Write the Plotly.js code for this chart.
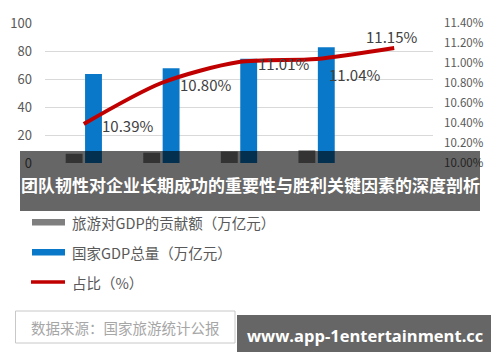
<!DOCTYPE html>
<html>
<head>
<meta charset="utf-8">
<script src="https://cdn.plot.ly/plotly-3.0.1.min.js"></script>
<style>
html,body{margin:0;padding:0;background:#fff;}
#chart{width:500px;height:362px;}
</style>
</head>
<body>
<div id="chart"></div>
<script>
// ---- data ----
var categories = ['2014', '2015', '2016', '2017', '2018'];
var tourismGDP = [6.61, 7.34, 8.19, 9.13, null];      // 旅游对GDP的贡献额（万亿元）
var nationalGDP = [63.6, 67.7, 74.4, 82.7, null];     // 国家GDP总量（万亿元）
var sharePct = [10.39, 10.80, 11.01, 11.04, 11.15];   // 占比（%）
var shareLabels = ['10.39%', '10.80%', '11.01%', '11.04%', '11.15%'];
var leftTicks = [0, 20, 40, 60, 80, 100];
var rightTicks = [10.0, 10.2, 10.4, 10.6, 10.8, 11.0, 11.2, 11.4];
var rightTickLabels = ['10.00%', '10.20%', '10.40%', '10.60%', '10.80%', '11.00%', '11.20%', '11.40%'];
var seriesNames = ['旅游对GDP的贡献额（万亿元）', '国家GDP总量（万亿元）', '占比（%）'];
var bannerText = '团队韧性对企业长期成功的重要性与胜利关键因素的深度剖析';
var sourceText = '数据来源：国家旅游统计公报';
var siteText = 'www.app-1entertainment.cc';

// ---- layout helpers (pixel -> paper) ----
var M = {l: 45, r: 67, t: 23, b: 199};
var W = 500, H = 362;
var PW = W - M.l - M.r, PH = H - M.t - M.b;
function px(x) { return (x - M.l) / PW; }
function py(y) { return (H - M.b - y) / PH; }

var labelOffsets = [
  {xa: 'left', xs: 16, ys: -1},
  {xa: 'left', xs: 17, ys: -1},
  {xa: 'left', xs: 17, ys: -1},
  {xa: 'left', xs: 10, ys: -15},
  {xa: 'center', xs: -3, ys: 12}
];

var CJK = '"Noto Sans CJK SC", "Noto Sans", sans-serif';
var colGray = '#7f7f7f', colBlue = '#0a78c8', colRed = '#c00000';

var traces = [
  {type: 'bar', x: categories, y: tourismGDP, name: seriesNames[0],
   marker: {color: colGray}, hoverinfo: 'skip'},
  {type: 'bar', x: categories, y: nationalGDP, name: seriesNames[1],
   marker: {color: colBlue}, hoverinfo: 'skip'},
  {type: 'scatter', mode: 'lines', x: categories, y: sharePct, yaxis: 'y2',
   name: seriesNames[2], line: {color: colRed, width: 4, shape: 'spline', smoothing: 0.8},
   hoverinfo: 'skip'}
];

var annotations = [];
for (var i = 0; i < sharePct.length; i++) {
  var o = labelOffsets[i];
  // x given as the category index on the category axis
  annotations.push({x: categories.indexOf(categories[i]), y: sharePct[i], xref: 'x', yref: 'y2',
    text: shareLabels[i], showarrow: false, xanchor: o.xa, yanchor: 'middle',
    xshift: o.xs, yshift: o.ys, font: {family: CJK, size: 15, color: '#404040'}});
}

var shapes = [];
// legend
var legY = [222, 252, 282];
shapes.push({type: 'rect', xref: 'paper', yref: 'paper', x0: px(32), x1: px(65), y0: py(219), y1: py(225.5),
  fillcolor: colGray, line: {width: 0}});
shapes.push({type: 'rect', xref: 'paper', yref: 'paper', x0: px(32), x1: px(65), y0: py(249), y1: py(255.5),
  fillcolor: colBlue, line: {width: 0}});
shapes.push({type: 'line', xref: 'paper', yref: 'paper', x0: px(31), x1: px(65), y0: py(282), y1: py(282),
  line: {color: colRed, width: 3.5}});
for (var k = 0; k < 3; k++) {
  annotations.push({xref: 'paper', yref: 'paper', x: px(70), y: py(legY[k]), xanchor: 'left', yanchor: 'middle',
    text: seriesNames[k], showarrow: false, font: {family: CJK, size: 14.5, color: '#595959'}});
}
// source box
shapes.push({type: 'rect', xref: 'paper', yref: 'paper', x0: px(15.5), x1: px(235), y0: py(343), y1: py(311),
  fillcolor: '#ffffff', line: {color: '#c8c8c8', width: 1}});
annotations.push({xref: 'paper', yref: 'paper', x: px(29), y: py(327), xanchor: 'left', yanchor: 'middle',
  text: sourceText, showarrow: false, font: {family: CJK, size: 14.5, color: '#a6a6a6'}});
// overlay banner
shapes.push({type: 'rect', xref: 'paper', yref: 'paper', layer: 'above', x0: px(20), x1: px(480), y0: py(211), y1: py(151),
  fillcolor: 'rgba(0,0,0,0.6)', line: {width: 0}});
annotations.push({xref: 'paper', yref: 'paper', x: px(250), y: py(185), xanchor: 'center', yanchor: 'middle',
  text: '<b>' + bannerText + '</b>', showarrow: false, font: {family: CJK, size: 17, color: '#ffffff'}});
// site box
shapes.push({type: 'rect', xref: 'paper', yref: 'paper', layer: 'above', x0: px(237), x1: px(491), y0: py(352), y1: py(315),
  fillcolor: 'rgba(0,0,0,0.6)', line: {width: 0}});
annotations.push({xref: 'paper', yref: 'paper', x: px(364.5), y: py(335), xanchor: 'center', yanchor: 'middle',
  text: '<b>' + siteText + '</b>', showarrow: false, font: {family: '"Open Sans", "DejaVu Sans", sans-serif', size: 16.5, color: '#ffffff'}});

var layout = {
  width: W, height: H,
  margin: M,
  paper_bgcolor: '#ffffff', plot_bgcolor: '#ffffff',
  showlegend: false,
  barmode: 'group', bargap: 0.5, bargroupgap: 0.13,
  xaxis: {type: 'category', showticklabels: false, showgrid: false, zeroline: false, showline: false, ticks: '',
          range: [-0.5, 4.5], fixedrange: true},
  yaxis: {range: [0, 100], tickvals: leftTicks, showgrid: true, gridcolor: '#d9d9d9', gridwidth: 1,
          zeroline: false, showline: false, ticks: '', ticklabelstandoff: 12,
          tickfont: {family: CJK, size: 13, color: '#595959'}, fixedrange: true},
  yaxis2: {overlaying: 'y', side: 'right', range: [10, 11.4], tickvals: rightTicks, ticktext: rightTickLabels,
           showgrid: false, zeroline: false, showline: false, ticks: '', ticklabelstandoff: 10,
           tickfont: {family: CJK, size: 11.5, color: '#595959'}, fixedrange: true},
  shapes: shapes,
  annotations: annotations
};

Plotly.newPlot('chart', traces, layout, {displayModeBar: false, staticPlot: true});
</script>
</body>
</html>
